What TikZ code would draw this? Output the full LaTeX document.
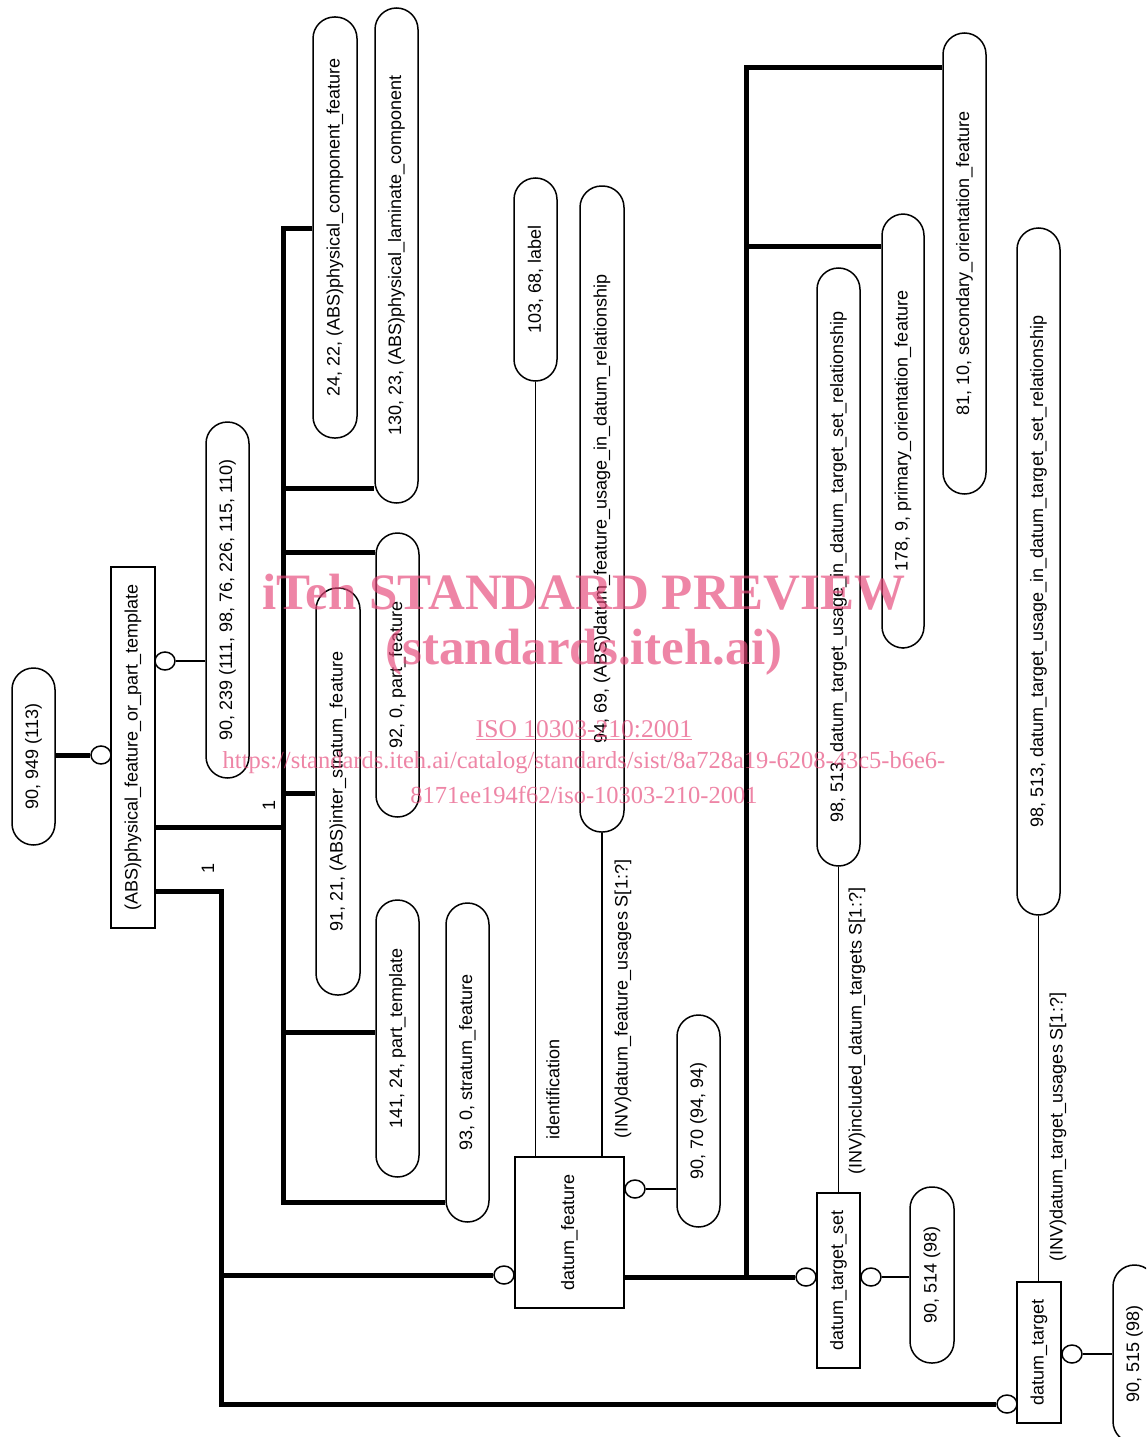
\documentclass[tikz,border=0pt]{standalone}
\usepackage{fontspec}
\setmainfont{Liberation Sans}
\newfontfamily\wmfont{Liberation Serif}
\usetikzlibrary{shapes.geometric}
\definecolor{wm}{RGB}{230,70,120}
\newcommand\pillnode[6]{\node[pill, minimum width={#3-#2}, minimum height={#5-#4}] (#1) at ({(#2+#3)/2},{(#4+#5)/2}) {\rotatebox{90}{#6}};}
\newcommand\entnode[6]{\node[ent, minimum width={#3-#2}, minimum height={#5-#4}] (#1) at ({(#2+#3)/2},{(#4+#5)/2}) {\rotatebox{90}{#6}};}
\begin{document}
\begin{tikzpicture}[x=1pt,y=-1pt,
  every node/.style={font=\fontsize{18}{20}\selectfont},
  pill/.style={draw, line width=1.5pt, rounded corners=21.5pt, inner sep=0pt, fill=white},
  ent/.style={draw, line width=1.5pt, inner sep=0pt, fill=white},
  circ/.style={draw, ellipse, line width=1.5pt, minimum width=20pt, minimum height=18pt, inner sep=0pt, fill=white},
  thk/.style={line width=5pt, line join=miter},
  thn/.style={line width=1.5pt},
  lbl/.style={inner sep=0pt, rotate=90},
  wmk/.style={text=wm, text opacity=0.66, inner sep=0pt}]
\clip (0,0) rectangle (1146,1437);
\fill[white] (0,0) rectangle (1146,1437);

% entities
\entnode{PFPT}{111}{155}{567}{928}{(ABS)physical\_feature\_or\_part\_template}
\entnode{DF}{515}{624}{1157}{1308}{datum\_feature}
\entnode{DTS}{817}{860}{1193}{1368}{datum\_target\_set}
\entnode{DT}{1017}{1061}{1282}{1423}{datum\_target}

% pills
\pillnode{P949}{12}{55}{668}{845}{90, 949 (113)}
\pillnode{P239}{206}{249}{422}{778}{90, 239 (111, 98, 76, 226, 115, 110)}
\pillnode{P24}{313}{357}{17}{438}{24, 22, (ABS)physical\_component\_feature}
\pillnode{P130}{375}{418}{8}{503}{130, 23, (ABS)physical\_laminate\_component}
\pillnode{P91}{316}{360}{588}{995}{91, 21, (ABS)inter\_stratum\_feature}
\pillnode{P92}{376}{419}{533}{817}{92, 0, part\_feature}
\pillnode{P141}{376}{419}{900}{1177}{141, 24, part\_template}
\pillnode{P93}{446}{489}{903}{1222}{93, 0, stratum\_feature}
\pillnode{P103}{514}{557}{178}{381}{103, 68, label}
\pillnode{P94}{580}{624}{186}{832}{94, 69, (ABS)datum\_feature\_usage\_in\_datum\_relationship}
\pillnode{P9070}{677}{720}{1015}{1227}{90, 70 (94, 94)}
\pillnode{P98a}{817}{860}{268}{866}{98, 513, datum\_target\_usage\_in\_datum\_target\_set\_relationship}
\pillnode{P178}{882}{924}{214}{648}{178, 9, primary\_orientation\_feature}
\pillnode{P81}{943}{986}{33}{494}{81, 10, secondary\_orientation\_feature}
\pillnode{P98b}{1017}{1060}{228}{915}{98, 513, datum\_target\_usage\_in\_datum\_target\_set\_relationship}
\pillnode{P514}{910}{954}{1187}{1363}{90, 514 (98)}
\pillnode{P515}{1113}{1156}{1265}{1443}{90, 515 (98)}

% circles
\node[circ] (c949) at (101,755) {};
\node[circ] (c239) at (165,661) {};
\node[circ] (cDFl) at (504,1275) {};
\node[circ] (cDFr) at (635,1189) {};
\node[circ] (cDTSl) at (806,1277) {};
\node[circ] (cDTSr) at (871,1277) {};
\node[circ] (cDTl) at (1007,1404) {};
\node[circ] (cDTr) at (1072,1354) {};

% trunk 1 (subtypes)
\coordinate (b0) at (283,827);
\coordinate (b1) at (283,228);
\coordinate (b2) at (283,488);
\coordinate (b3) at (283,552);
\coordinate (b4) at (283,793);
\coordinate (b5) at (283,1032);
\coordinate (b6) at (283,1202);
\draw[thk] (b0 -| PFPT.east) -- (b0);
\draw[thk] (b1 -| P24.west) -- (b1) -- (b6) -- (b6 -| P93.west);
\draw[thk] (b2) -- (b2 -| P130.west);
\draw[thk] (b3) -- (b3 -| P92.west);
\draw[thk] (b4) -- (b4 -| P91.west);
\draw[thk] (b5) -- (b5 -| P141.west);

% second subtype tree
\coordinate (a1) at (221,891);
\coordinate (a2) at (221,1404);
\coordinate (a3) at (221,1275);
\draw[thk] (a1 -| PFPT.east) -- (a1) -- (a2) -- (cDTl.west);
\draw[thk] (a3) -- (cDFl.west);

% trunk 2
\coordinate (c1) at (746,68);
\coordinate (c2) at (746,246);
\coordinate (c3) at (746,1277);
\draw[thk] (c1 -| P81.west) -- (c1) -- ([yshift=2.5pt]c3);
\draw[thk] (c2) -- (c2 -| P178.west);
\draw[thk] (DF.east |- c3) -- (cDTSl.west);

% other connectors
\draw[thk] (P949.east |- c949) -- (c949.west);
\draw[thn] (c239.east) -- (c239.east -| P239.west);
\draw[thn] (P103.south) -- (P103.south |- DF.north);
\draw[thn] (P94.south) -- (P94.south |- DF.north);
\draw[thn] (P98a.south) -- (P98a.south |- DTS.north);
\draw[thn] (P98b.south) -- (P98b.south |- DT.north);
\draw[thn] (cDFr.east) -- (cDFr.east -| P9070.west);
\draw[thn] (cDTSr.east) -- (cDTSr.east -| P514.west);
\draw[thn] (cDTr.east) -- (cDTr.east -| P515.west);

% labels
\node[lbl] (l1) at (269,805) {1};
\node[lbl] (l2) at (208,868) {1};
\node[lbl] (lid) at (553,1089) {identification};
\node[lbl] (ldfu) at (623,999) {(INV)datum\_feature\_usages S[1:?]};
\node[lbl] (lidt) at (857,1031) {(INV)included\_datum\_targets S[1:?]};
\node[lbl] (ldtu) at (1058,1127) {(INV)datum\_target\_usages S[1:?]};

% watermark
\node[wmk, font=\wmfont\bfseries\fontsize{51}{55}\selectfont] (w1) at (584,592) {iTeh STANDARD PREVIEW};
\node[wmk, font=\wmfont\bfseries\fontsize{51}{55}\selectfont] (w2) at (584,652) {(standards.iteh.ai)};
\node[wmk, font=\wmfont\fontsize{25.5}{28}\selectfont] (w3) at (584,730) {\underline{ISO 10303-210:2001}};
\node[wmk, font=\wmfont\fontsize{24.5}{28}\selectfont] (w4) at (584,763) {https://standards.iteh.ai/catalog/standards/sist/8a728a19-6208-43c5-b6e6-};
\node[wmk, font=\wmfont\fontsize{24.5}{28}\selectfont] (w5) at (584,795) {8171ee194f62/iso-10303-210-2001};
\end{tikzpicture}
\end{document}
